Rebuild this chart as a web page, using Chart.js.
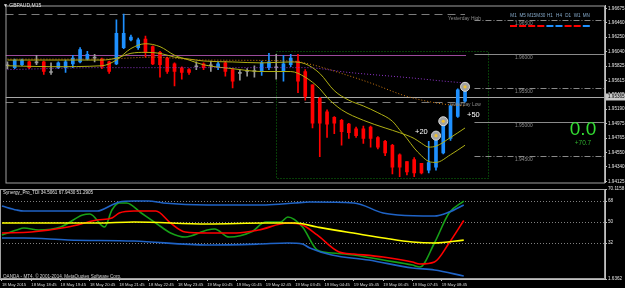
<!DOCTYPE html>
<html>
<head>
<meta charset="utf-8">
<script src="https://cdn.jsdelivr.net/npm/chart.js@4.4.0/dist/chart.umd.min.js"></script>
<style>
  html, body { margin: 0; padding: 0; background: #000; overflow: hidden; }
  #wrap { position: relative; width: 625px; height: 288px; }
  #cMain { position: absolute; left: 0; top: 0; }
  #cSub { position: absolute; left: 0; top: 186px; }
</style>
</head>
<body>
<div id="wrap">
  <canvas id="cMain" width="625" height="188"></canvas>
  <canvas id="cSub" width="625" height="102"></canvas>
</div>
<script>
/* GBPAUD M15 — candles + Synergy TDI sub window */

const FONT = "'Liberation Sans', Arial, sans-serif";
const TINY = 4.6;
const TIME_FONT = 4.2;

// ═══ candles (bar 0 = 18 May 17:45, one bar per 15 min) ═══
const opens = [1.95830,1.95801,1.95844,1.95886,1.95872,1.95886,1.95731,1.95801,1.95801,1.95858,
  1.95886,1.95928,1.95942,1.95928,1.95886,1.95858,1.96097,1.96210,1.96097,1.96224,
  1.96111,1.96027,1.95942,1.95858,1.95801,1.95773,1.95815,1.95858,1.95830,1.95801,
  1.95872,1.95773,1.95717,1.95745,1.95745,1.95745,1.95801,1.95801,1.95745,1.95844,
  1.95900,1.95745,1.95548,1.95350,1.95153,1.95069,1.95027,1.94970,1.94900,1.94900,
  1.94928,1.94773,1.94716,1.94660,1.94519,1.94420,1.94449,1.94392,1.94294,1.94336,
  1.94547,1.94759,1.95083,1.95308];
const highs = [1.95886,1.95928,1.95928,1.95900,1.95984,1.95900,1.95872,1.95886,1.95914,1.95984,
  1.96097,1.96041,1.95998,1.95942,1.95900,1.96506,1.96590,1.96280,1.96238,1.96266,
  1.96125,1.96041,1.95956,1.95872,1.95815,1.95787,1.95886,1.95872,1.95900,1.95886,
  1.95900,1.95787,1.95773,1.95787,1.95830,1.95900,1.96013,1.95998,1.95984,1.95998,
  1.95998,1.95773,1.95548,1.95365,1.95182,1.95083,1.95041,1.94984,1.94928,1.94942,
  1.94942,1.94787,1.94731,1.94674,1.94533,1.94420,1.94477,1.94392,1.94716,1.94801,
  1.94998,1.95252,1.95491,1.95534];
const lows = [1.95787,1.95787,1.95830,1.95787,1.95844,1.95703,1.95703,1.95787,1.95731,1.95801,
  1.95872,1.95914,1.95886,1.95787,1.95717,1.95844,1.96083,1.96196,1.96069,1.95956,
  1.95844,1.95660,1.95717,1.95534,1.95632,1.95703,1.95773,1.95773,1.95745,1.95773,
  1.95675,1.95505,1.95618,1.95675,1.95660,1.95689,1.95773,1.95632,1.95604,1.95815,
  1.95435,1.95322,1.94914,1.94491,1.94773,1.94829,1.94660,1.94759,1.94773,1.94688,
  1.94632,1.94604,1.94505,1.94238,1.94196,1.94224,1.94196,1.94238,1.94252,1.94294,
  1.94533,1.94731,1.95069,1.95294];
const closes = [1.95830,1.95914,1.95914,1.95801,1.95872,1.95745,1.95731,1.95872,1.95886,1.95942,
  1.96069,1.95998,1.95942,1.95815,1.95745,1.96308,1.96308,1.96252,1.96210,1.96027,
  1.95858,1.95844,1.95745,1.95745,1.95731,1.95731,1.95815,1.95801,1.95830,1.95858,
  1.95745,1.95604,1.95717,1.95745,1.95745,1.95872,1.95886,1.95801,1.95858,1.95942,
  1.95604,1.95379,1.94984,1.94984,1.94970,1.94984,1.94858,1.94843,1.94801,1.94759,
  1.94759,1.94632,1.94547,1.94336,1.94336,1.94266,1.94252,1.94252,1.94406,1.94787,
  1.94970,1.95238,1.95477,1.95491];

// ═══ moving averages on price (bar index / price) ═══
const maFastIdx = [0,6,13,15,17,19,21,23,25,27,31,35,39,41,43,44,46,49,52,54,56,57,58,59,61,63];
const maFastVal = [1.95830,1.95816,1.95830,1.95914,1.96083,1.96154,1.96111,1.95985,1.95914,1.95844,1.95787,1.95745,1.95745,1.95661,1.95492,1.95365,1.95182,1.95027,1.94914,1.94844,1.94759,1.94689,1.94632,1.94646,1.94773,1.94914];
const maSlowIdx = [0,6,13,15,17,19,21,23,25,27,31,35,39,41,43,45,47,49,51,53,54,55,56,57,58,59,61,63];
const maSlowVal = [1.95914,1.95914,1.95914,1.95942,1.96013,1.96027,1.96013,1.95957,1.95928,1.95900,1.95886,1.95872,1.95886,1.95858,1.95717,1.95463,1.95323,1.95238,1.95139,1.95013,1.94886,1.94759,1.94618,1.94505,1.94421,1.94407,1.94520,1.94660];
const orangeIdx = [0,13,20,27,39,42,46,50,55,60,63];
const orangeVal = [1.95928,1.95928,1.95957,1.95914,1.95900,1.95844,1.95717,1.95576,1.95379,1.95266,1.95238];
const purpleIdx = [0,13,27,41,47,56,60,63];
const purpleVal = [1.95773,1.95802,1.95802,1.95802,1.95731,1.95647,1.95604,1.95576];

// entry markers
const arrowIdx = [59, 60, 63];
const arrowVal = [1.94801, 1.95013, 1.95520];

// levels
const yesterdayHigh = 1.96590;
const yesterdayLow = 1.95294;
const dayOpen = 1.95984;
const bidPrice = 1.95365;
const roundLevels = [1.96500, 1.96000, 1.95500, 1.95000, 1.94500];
const rangeBox = { from: 37, to: 66.2, high: 1.96041, low: 1.94170 };
const tfNames = ['M1','M5','M15','M30','H1','H4','D1','W1','MN'];
const tfSignals = ['dn','dn','dn','dn','up','up','dn','dn','up'];

// axes
const priceTicks = [1.96675,1.96460,1.96250,1.96040,1.95825,1.95615,1.95405,1.95190,1.94975,1.94765,1.94550,1.94340,1.94125];
const yMin = 1.94111, yMax = 1.96717;
const xMin = -0.27, xMax = 82.27;
const timeTickIdx = [0,4,8,12,16,20,24,28,32,36,40,44,48,52,56,60];
const timeLabels = ['18 May 2015','18 May 18:45','18 May 19:45','18 May 20:45','18 May 21:45','18 May 22:45',
  '18 May 23:45','19 May 00:45','19 May 01:45','19 May 02:45','19 May 03:45','19 May 04:45',
  '19 May 05:45','19 May 06:45','19 May 07:45','19 May 08:45'];

// ═══ Synergy TDI ═══
const bandUpIdx = [0,2,3,13,15,16,18,20,22,28,36,40,42,48,52,54,59,61,63];
const bandUpVal = [63.7,60.3,59.4,59.4,64.6,67.1,68,68,66.3,64.6,64.6,66.3,67.1,66.3,57.7,56,55.1,58.5,64.6];
const bandLoIdx = [0,3,9,18,28,35,39,41,42,45,50,56,59,63];
const bandLoVal = [36.3,36.3,34.6,33.7,30.3,31.1,32,31.1,27.7,21.7,17.4,10.6,8.9,3.7];
const baseIdx = [0,13,18,28,36,40,43,47,56,59,63];
const baseVal = [49.1,49.1,50,48.3,49.1,49.1,45.7,41.4,32.9,32,34.5];
const signalIdx = [0,4,9,13,15,16,18,21,23,25,28,32,35,39,41,43,46,48,52,56,57,59,61,63];
const signalVal = [40.6,41.4,45.7,51.7,53.4,57.7,59.4,59.4,49.1,41.4,40.6,40.6,43.1,49.1,47.4,38.9,24.3,22.6,20,15.7,14,15.7,32,51.3];
const rsiIdx = [0,2,3,5,8,11,12,14,15,16,17,19,21,23,25,28,29,31,34,36,38,39,41,43,45,48,52,56,57,59,61,63];
const rsiVal = [38.9,43.1,44.9,43.1,45.7,56,56.9,45.7,60.3,66.3,66.3,57.7,49.1,40.6,37.1,43.1,44,37.1,41.4,50,50,54.3,45.7,26,23.4,21.7,17.4,13.1,11.4,32,57.7,67.9];
const tdiLevels = [68, 50, 32];
const subMin = 1.14, subMax = 78.3;
const subTickVals = [subMin, 32, 50, 68, subMax];
const subTickLabels = ['1.6362', '32', '50', '68', '70.1158'];

const BULL = '#1e90ff', BEAR = '#ff0000', DOJI = '#9a9a9a';
function candleColor(i) {
  if (closes[i] > opens[i]) return BULL;
  if (closes[i] < opens[i]) return BEAR;
  return DOJI;
}
const pts = (idx, val) => idx.map((x, k) => ({ x, y: val[k] }));
const barIdx = opens.map((_, i) => i);

function maLine(idx, val, color, dash) {
  return {
    type: 'line', data: pts(idx, val), borderColor: color, borderWidth: 1,
    borderDash: dash || [], pointRadius: 0, fill: false,
    cubicInterpolationMode: 'monotone', order: 0
  };
}

// ═══ main window decorations ═══
const mainDeco = {
  id: 'mainDeco',
  beforeDatasetsDraw(chart) {
    const { ctx, chartArea: a, scales: { x, y } } = chart;
    ctx.save();
    ctx.beginPath(); ctx.rect(a.left, a.top, a.right - a.left, a.bottom - a.top); ctx.clip();
    const hline = (price, x0, x1, color, dash) => {
      const py = Math.round(y.getPixelForValue(price)) + 0.5;
      ctx.strokeStyle = color; ctx.lineWidth = 1; ctx.setLineDash(dash);
      ctx.beginPath(); ctx.moveTo(x0, py); ctx.lineTo(x1, py); ctx.stroke();
      return py;
    };
    const lastX = x.getPixelForValue(opens.length - 1);
    const lvlX = x.getPixelForValue(64.3);

    // range box
    const bx0 = Math.round(x.getPixelForValue(rangeBox.from)) + 0.5;
    const bx1 = Math.round(x.getPixelForValue(rangeBox.to)) + 0.5;
    const by0 = Math.round(y.getPixelForValue(rangeBox.high)) + 0.5;
    const by1 = Math.round(y.getPixelForValue(rangeBox.low)) + 0.5;
    ctx.strokeStyle = '#0f7a0f'; ctx.setLineDash([1, 2]); ctx.lineWidth = 1;
    ctx.strokeRect(bx0, by0, bx1 - bx0, by1 - by0);

    hline(yesterdayHigh, a.left, lastX, '#7c7c7c', [8, 5]);
    hline(yesterdayLow, a.left, lastX, '#7c7c7c', [8, 5]);
    hline(dayOpen, a.left, lastX + 1, '#9a4a9a', []);
    roundLevels.forEach(p => {
      const solid = Math.abs(p * 100 - Math.round(p * 100)) < 1e-6;
      hline(p, lvlX, a.right, '#8a8a8a', solid ? [] : [6, 2, 1, 2]);
    });
    hline(bidPrice, a.left, a.right, '#a8a8a8', []);
    ctx.restore();
  },
  afterDraw(chart) {
    const { ctx, chartArea: a, scales: { y } } = chart;
    ctx.save();
    // window frame
    ctx.strokeStyle = '#a0a0a0'; ctx.lineWidth = 1; ctx.setLineDash([]);
    ctx.strokeRect(a.left + 0.5, a.top + 0.5, a.right - a.left - 1, a.bottom - a.top);

    ctx.textBaseline = 'middle'; ctx.textAlign = 'left';
    ctx.font = `${TINY + 0.4}px ${FONT}`;
    ctx.fillStyle = '#e8e8e8';
    ctx.fillText('\u25BC GBPAUD,M15', 3, 6);

    ctx.font = `${TINY + 0.3}px ${FONT}`;
    ctx.fillStyle = '#8c8c8c';
    ctx.fillText('Yesterday High', 448, y.getPixelForValue(yesterdayHigh) + 4.5);
    ctx.fillText('Yesterday Low', 449, y.getPixelForValue(yesterdayLow) + 3);
    roundLevels.forEach(p => {
      ctx.fillText(p.toFixed(5), 515, y.getPixelForValue(p) + 3.5);
    });

    // timeframe row
    ctx.textAlign = 'center';
    ctx.font = `${TINY}px ${FONT}`;
    tfNames.forEach((n, k) => {
      const cx = 513.5 + k * 9.1;
      ctx.fillStyle = '#86aacb';
      ctx.fillText(n, cx, 15.5);
      ctx.strokeStyle = tfSignals[k] === 'up' ? BULL : BEAR;
      ctx.lineWidth = 2;
      ctx.beginPath(); ctx.moveTo(cx - 3.5, 26); ctx.lineTo(cx + 3.5, 26); ctx.stroke();
    });

    // profit texts
    ctx.fillStyle = '#33dd33';
    ctx.font = `19px ${FONT}`;
    ctx.fillText('0.0', 583, 130);
    ctx.fillStyle = '#2fb02f';
    ctx.font = `6.5px ${FONT}`;
    ctx.fillText('+70.7', 583, 143);
    ctx.textAlign = 'left';
    ctx.fillStyle = '#ffffff';
    ctx.font = `7.5px ${FONT}`;
    ctx.fillText('+20', 415, 132);
    ctx.fillText('+50', 467, 115);

    // bid label on the price axis
    const by = Math.round(y.getPixelForValue(bidPrice));
    ctx.fillStyle = '#c8c8c8';
    ctx.fillRect(a.right + 1, by - 3.5, 625 - a.right - 1, 7);
    ctx.fillStyle = '#000';
    ctx.font = `${TINY}px ${FONT}`;
    ctx.fillText(bidPrice.toFixed(5), a.right + 3, by + 0.2);
    ctx.restore();
  }
};

new Chart(document.getElementById('cMain'), {
  type: 'bar',
  data: {
    datasets: [
      maLine(purpleIdx, purpleVal, '#8e34c8', [1, 2]),
      maLine(orangeIdx, orangeVal, '#d07a10', [1, 2]),
      maLine(maSlowIdx, maSlowVal, '#b0b014'),
      maLine(maFastIdx, maFastVal, '#b0b014'),
      {
        type: 'bar', data: barIdx.map(i => ({ x: i, y: [lows[i], highs[i]] })),
        backgroundColor: c => candleColor(c.dataIndex), barThickness: 1,
        grouped: false, order: 3
      },
      {
        type: 'bar', data: barIdx.map(i => ({ x: i, y: [opens[i], closes[i]] })),
        backgroundColor: c => candleColor(c.dataIndex), barThickness: 3, minBarLength: 1,
        grouped: false, order: 2
      },
      {
        type: 'line', data: pts(arrowIdx, arrowVal), showLine: false,
        pointRadius: 4.5, pointBackgroundColor: '#a2a2a2', pointBorderColor: '#dcdcdc',
        pointBorderWidth: 1, order: -1
      },
      {
        type: 'line', data: pts(arrowIdx, arrowVal), showLine: false,
        pointRadius: 1.6, pointBackgroundColor: '#f2c230', pointBorderWidth: 0, order: -2
      }
    ]
  },
  options: {
    responsive: false, animation: false, events: [],
    layout: { padding: { top: 1, bottom: 2, left: 0, right: 0 } },
    plugins: { legend: { display: false }, tooltip: { enabled: false } },
    scales: {
      x: { type: 'linear', min: xMin, max: xMax, display: false, offset: false },
      y: {
        position: 'right', min: yMin, max: yMax,
        afterBuildTicks: s => { s.ticks = priceTicks.map(v => ({ value: v })); },
        afterFit: s => { s.width = 20; s.paddingTop = 0; s.paddingBottom = 0; },
        ticks: {
          autoSkip: false, padding: 1, color: '#e4e4e4',
          font: { family: FONT, size: TINY }, callback: v => v.toFixed(5)
        },
        grid: { drawOnChartArea: false, tickLength: 2, tickColor: '#c0c0c0' },
        border: { color: '#c0c0c0' }
      }
    }
  },
  plugins: [mainDeco]
});

// ═══ sub window ═══
function tdiLine(idx, val, color) {
  return {
    data: pts(idx, val), borderColor: color, borderWidth: 1.6, pointRadius: 0,
    fill: false, cubicInterpolationMode: 'monotone'
  };
}

const subDeco = {
  id: 'subDeco',
  beforeDatasetsDraw(chart) {
    const { ctx, chartArea: a, scales: { y } } = chart;
    ctx.save();
    ctx.strokeStyle = '#808080'; ctx.lineWidth = 1; ctx.setLineDash([1, 2]);
    tdiLevels.forEach(v => {
      const py = Math.round(y.getPixelForValue(v)) + 0.5;
      ctx.beginPath(); ctx.moveTo(a.left, py); ctx.lineTo(a.right, py); ctx.stroke();
    });
    ctx.restore();
  },
  afterDraw(chart) {
    const { ctx, chartArea: a } = chart;
    ctx.save();
    ctx.strokeStyle = '#a0a0a0'; ctx.lineWidth = 1; ctx.setLineDash([]);
    ctx.strokeRect(a.left + 0.5, a.top + 0.5, a.right - a.left - 1, a.bottom - a.top - 1);
    ctx.textBaseline = 'middle'; ctx.textAlign = 'left';
    ctx.font = `${TINY}px ${FONT}`;
    ctx.fillStyle = '#e4e4e4';
    ctx.fillText('Synergy_Pro_TDI 34.5061 67.9430 51.2905', 3, 6.5);
    ctx.fillStyle = '#cfcfcf';
    ctx.fillText('OANDA - MT4, \u00A9 2001-2014, MetaQuotes Software Corp.', 3, 91);
    ctx.restore();
  }
};

new Chart(document.getElementById('cSub'), {
  type: 'line',
  data: {
    datasets: [
      tdiLine(bandUpIdx, bandUpVal, '#1f63c6'),
      tdiLine(bandLoIdx, bandLoVal, '#1f63c6'),
      tdiLine(baseIdx, baseVal, '#ffff00'),
      tdiLine(signalIdx, signalVal, '#ff0000'),
      tdiLine(rsiIdx, rsiVal, '#17a017')
    ]
  },
  options: {
    responsive: false, animation: false, events: [],
    layout: { padding: { top: 3, bottom: 0, left: 0, right: 0 } },
    plugins: { legend: { display: false }, tooltip: { enabled: false } },
    scales: {
      x: {
        type: 'linear', min: xMin, max: xMax, offset: false,
        afterBuildTicks: s => { s.ticks = timeTickIdx.map(v => ({ value: v })); },
        afterFit: s => { s.height = 9; s.paddingLeft = 0; s.paddingRight = 0; },
        ticks: {
          autoSkip: false, maxRotation: 0, minRotation: 0, align: 'start', padding: 1,
          color: '#d8d8d8', font: { family: FONT, size: TIME_FONT },
          callback: (v, i) => timeLabels[i]
        },
        grid: { drawOnChartArea: false, tickLength: 2, tickColor: '#c0c0c0' },
        border: { color: '#c0c0c0' }
      },
      y: {
        position: 'right', min: subMin, max: subMax,
        afterBuildTicks: s => { s.ticks = subTickVals.map(v => ({ value: v })); },
        afterFit: s => { s.width = 20; s.paddingTop = 0; s.paddingBottom = 0; },
        ticks: {
          autoSkip: false, padding: 1, color: '#e4e4e4',
          font: { family: FONT, size: TINY }, callback: (v, i) => subTickLabels[i]
        },
        grid: { drawOnChartArea: false, tickLength: 2, tickColor: '#c0c0c0' },
        border: { color: '#c0c0c0' }
      }
    }
  },
  plugins: [subDeco]
});
</script>
</body>
</html>
